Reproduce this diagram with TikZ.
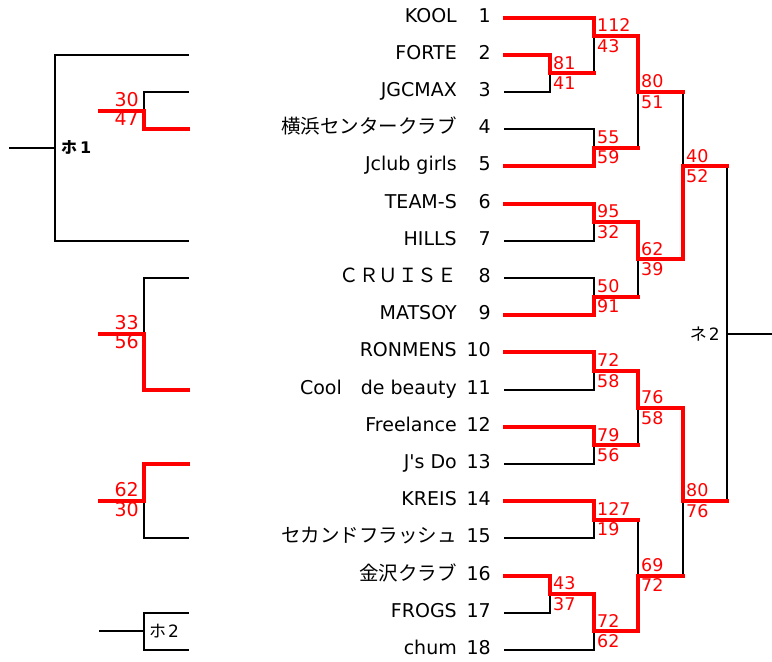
\documentclass[tikz,border=0pt]{standalone}
\usepackage{fontspec}
\setmainfont{DejaVu Sans}[Ligatures=TeXOff]
\newfontfamily\cjk{Noto Sans CJK JP}
\newcommand\jp[1]{{\cjk\fontsize{19.5}{20}\selectfont #1}}

% match: x / top row / bottom row / output row / next x / winner row / top score / bottom score
\def\matches{550/2/4/3/594/2/81/41, 594/0/3/1/638/0/112/43, 594/6/8/7/638/8/55/59,
  638/1/7/4/683/1/80/51, 594/10/12/11/638/10/95/32, 594/14/16/15/638/16/50/91,
  638/11/15/13/683/11/62/39, 683/4/13/8/727/13/40/52, 594/18/20/19/638/18/72/58,
  594/22/24/23/638/22/79/56, 638/19/23/21/683/19/76/58, 594/26/28/27/638/26/127/19,
  550/30/32/31/594/30/43/37, 594/31/34/33/638/31/72/62, 638/27/33/30/683/33/69/72,
  683/21/30/26/727/21/80/76}

\begin{document}
\begin{tikzpicture}[x=1pt, y=-18.6pt, line cap=rect,
    lose/.style={black, line width=2pt},
    win/.style={red, line width=4pt},
    team/.style={anchor=east, inner sep=0pt, text height=13pt, text depth=0pt, yshift=2pt, font=\fontsize{19}{20}\selectfont},
    score/.style={red, inner sep=0pt, text height=12pt, text depth=0pt, font=\fontsize{17.5}{18}\selectfont},
    bigscore/.style={score, font=\fontsize{19}{20}\selectfont},
    block/.style={inner sep=0pt, font=\fontsize{17}{18}\selectfont}]
  \useasboundingbox (0pt,0pt) rectangle (772pt,-662pt);
  \begin{scope}[yshift=-17.5pt]
  % bracket lines under the red
  \foreach \mx/\mt/\mb/\mo/\nx/\mw/\ptop/\pbot in \matches
    \draw[lose] (\mx,\mt) -- (\mx,\mb);
  \draw[lose] (727,8) -- (727,26) (727,17) -- (772,17);
  \node[block, anchor=east] (ne2) at (720,17) {{\cjk ネ}\hspace{2pt}2};

  % teams: name / first match x / line
  \foreach \tname/\fx/\col [count=\n] in {KOOL/594/win, FORTE/550/win, JGCMAX/550/lose,
      \jp{横浜センタークラブ}/594/lose, Jclub girls/594/win, TEAM-S/594/win, HILLS/594/lose,
      \jp{ＣＲＵＩＳＥ}/594/lose, MATSOY/594/win, RONMENS/594/win,
      Cool\hspace{19pt}de beauty/594/lose, Freelance/594/win, J's Do/594/lose,
      KREIS/594/win, \jp{セカンドフラッシュ}/594/lose, \jp{金沢クラブ}/550/win,
      FROGS/550/lose, chum/594/lose} {
    \node[team] (name\n) at (457,{2*\n-2}) {\tname};
    \node[team] (seed\n) at (491,{2*\n-2}) {\n};
    \coordinate (t\n) at (505,{2*\n-2});
    \draw[\col] (t\n) -- (\fx,{2*\n-2});
  }

  % winners
  \foreach \mx/\mt/\mb/\mo/\nx/\mw/\ptop/\pbot [count=\k] in \matches {
    \coordinate (m\k) at (\mx,\mo);
    \draw[win] (\mx,\mw) -- (m\k) -- (\nx,\mo);
    \node[score, anchor=south west] (sa\k) at ([shift={(3pt,4pt)}]m\k) {\ptop};
    \node[score, anchor=north west] (sb\k) at ([shift={(3pt,-4pt)}]m\k) {\pbot};
  }

  % left side
  \draw[lose] (188,2) -- (55,2) -- (55,12) -- (188,12) (10,7) -- (55,7);
  \node[block, anchor=west, font=\bfseries\fontsize{16}{18}\selectfont] (ho1) at (61,7) {{\cjk\bfseries ホ}\hspace{3pt}1};
  \foreach \ct/\cb/\co/\cw/\ptop/\pbot [count=\k] in {4/6/5/6/30/47, 14/20/17/20/33/56, 24/28/26/24/62/30} {
    \draw[lose] (188,\ct) -- (144,\ct) -- (144,\cb) -- (188,\cb);
    \coordinate (c\k) at (144,\co);
    \draw[win] (188,\cw) -- (144,\cw) -- (c\k) -- (100,\co);
    \node[bigscore, anchor=south east] (ca\k) at ([shift={(-5pt,4pt)}]c\k) {\ptop};
    \node[bigscore, anchor=north east] (cb\k) at ([shift={(-5pt,-3pt)}]c\k) {\pbot};
  }
  \draw[lose] (188,32) -- (144,32) -- (144,34) -- (188,34) (100,33) -- (144,33);
  \node[block, anchor=west] (ho2) at (149,33) {{\cjk ホ}\hspace{2pt}2};
  \end{scope}
\end{tikzpicture}
\end{document}
